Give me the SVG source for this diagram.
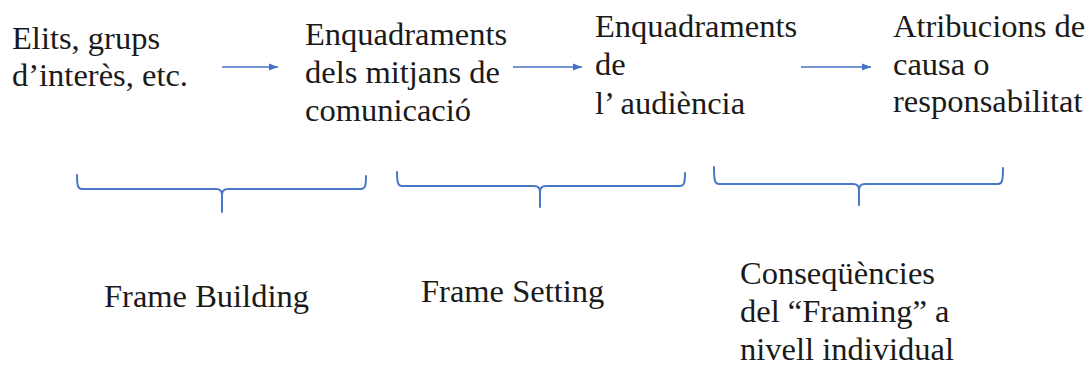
<svg xmlns="http://www.w3.org/2000/svg" width="1092" height="367" viewBox="0 0 1092 367">
<style>
text{font-family:"Liberation Serif","Times New Roman",serif;font-size:32.5px;fill:#1a1a1a}
.c{fill:none;stroke:#4472C4;stroke-width:1.6}
.b{fill:none;stroke:#4a78c8;stroke-width:2;stroke-linecap:round;stroke-linejoin:round}
</style>
<defs>
<marker id="ah" markerWidth="10" markerHeight="8" refX="9" refY="4" orient="auto" markerUnits="userSpaceOnUse">
<path d="M0,0.5 L9,4 L0,7.5 Z" fill="#4472C4"/>
</marker>
</defs>
<rect width="1092" height="367" fill="#fff"/>
<g id="n1"><text x="12" y="49">Elits, grups</text><text x="12" y="86">d’interès, etc.</text></g>
<g id="n2"><text x="305" y="45">Enquadraments</text><text x="305" y="83">dels mitjans de</text><text x="305" y="121">comunicació</text></g>
<g id="n3"><text x="595" y="37">Enquadraments</text><text x="595" y="75">de</text><text x="595" y="114">l’ audiència</text></g>
<g id="n4"><text x="893" y="37">Atribucions de</text><text x="893" y="75">causa o</text><text x="893" y="112">responsabilitat</text></g>
<g id="connectors">
<line class="c" x1="222" y1="67" x2="278" y2="67" marker-end="url(#ah)"/>
<line class="c" x1="513" y1="67" x2="582" y2="67" marker-end="url(#ah)"/>
<line class="c" x1="801" y1="67" x2="871" y2="67" marker-end="url(#ah)"/>
</g>
<g id="brace1"><path class="b" d="M77,175 C77,186 78,189 82,189 L216,189 C220,189 222,191 222,195 L222,212 M222,195 C222,191 224,189 228,189 L361,189 C365,189 366,186 366,176"/></g>
<g id="brace2"><path class="b" d="M397,172 C397,183 398,186 402,186 L534,186 C538,186 540,188 540,192 L540,207 M540,192 C540,188 542,186 546,186 L680,186 C684,186 685,183 685,173"/></g>
<g id="brace3"><path class="b" d="M714,167 C714,181 715,184 719,184 L853,184 C857,184 859,186 859,190 L859,205 M859,190 C859,186 861,184 865,184 L998,184 C1002,184 1003,181 1003,168"/></g>
<g id="l1"><text x="104" y="307">Frame Building</text></g>
<g id="l2"><text x="421" y="302">Frame Setting</text></g>
<g id="l3"><text x="740" y="284">Conseqüències</text><text x="740" y="322">del “Framing” a</text><text x="740" y="360">nivell individual</text></g>
</svg>
